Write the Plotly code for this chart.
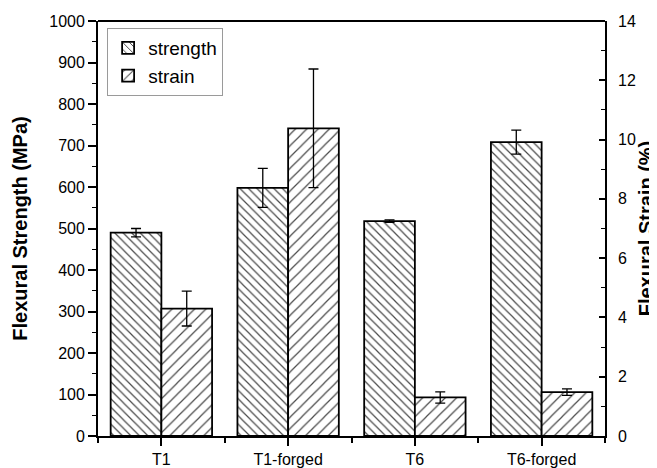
import plotly.graph_objects as go

categories = ["T1", "T1-forged", "T6", "T6-forged"]
strength = [490, 598, 518, 708]
strength_err = [10, 47, 3, 29]
strain = [4.30, 10.38, 1.30, 1.48]
strain_err = [0.59, 2.0, 0.19, 0.11]

xpos = list(range(len(categories)))
font_family = "Liberation Sans, Arial, sans-serif"

fig = go.Figure()
fig.add_trace(go.Bar(
    x=xpos, y=strength, name="strength", yaxis="y",
    width=0.4, offset=-0.4,
    marker=dict(color="white", line=dict(color="black", width=1.8),
                pattern=dict(shape="\\", fgcolor="#4a4a4a", bgcolor="white", size=6, solidity=0.2)),
    error_y=dict(type="data", array=strength_err, color="black", thickness=1.3, width=5),
))
fig.add_trace(go.Bar(
    x=xpos, y=strain, name="strain", yaxis="y2",
    width=0.4, offset=0,
    marker=dict(color="white", line=dict(color="black", width=1.8),
                pattern=dict(shape="/", fgcolor="#4a4a4a", bgcolor="white", size=8, solidity=0.15)),
    error_y=dict(type="data", array=strain_err, color="black", thickness=1.3, width=5),
))

axis_common = dict(showline=True, linecolor="black", linewidth=1.8,
                   tickcolor="black", tickwidth=1.5, showgrid=False, zeroline=False,
                   automargin=False,
                   tickfont=dict(size=16, color="black", family=font_family))

# page body has an 8px margin, so the figure is sized/offset to compensate
fig.update_layout(
    template="none",
    width=649, height=460,
    margin=dict(l=90, r=52, t=13, b=32),
    paper_bgcolor="white", plot_bgcolor="white",
    font=dict(family=font_family, color="black"),
    showlegend=True,
    legend=dict(x=0.018, y=0.983, xanchor="left", yanchor="top",
                bordercolor="#9a9a9a", borderwidth=1, bgcolor="white",
                font=dict(size=19, color="black"), tracegroupgap=0,
                itemwidth=30),
    xaxis=dict(range=[-0.5, 3.5], tickmode="array", tickvals=xpos, ticktext=categories,
               ticks="outside", ticklen=8,
               minor=dict(tickmode="linear", tick0=0.5, dtick=1, ticks="outside", ticklen=5,
                          tickcolor="black", tickwidth=1.5),
               **axis_common),
    yaxis=dict(range=[0, 1000], dtick=100, ticks="outside", ticklen=8,
               minor=dict(dtick=50, ticks="outside", ticklen=4, tickcolor="black", tickwidth=1.3),
               title=dict(text="<b>Flexural Strength (MPa)</b>", font=dict(size=20), standoff=16),
               **axis_common),
    yaxis2=dict(range=[0, 14], dtick=2, ticks="inside", ticklen=6, overlaying="y", side="right",
                ticklabelstandoff=8,
                minor=dict(dtick=1, ticks="inside", ticklen=4, tickcolor="black", tickwidth=1.3),
                title=dict(text="<b>Flexural Strain (%)</b>", font=dict(size=20), standoff=4),
                **axis_common),
)
# top border line
fig.add_shape(type="line", xref="paper", yref="paper", x0=0, x1=1, y0=1, y1=1,
              line=dict(color="black", width=1.8))

fig.write_html("out.html")
